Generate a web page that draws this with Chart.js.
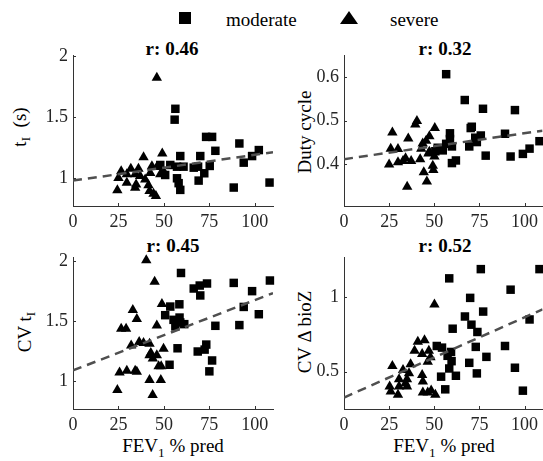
<!DOCTYPE html>
<html><head><meta charset="utf-8">
<script src="https://cdn.jsdelivr.net/npm/chart.js@4"></script>
<style>
html,body{margin:0;padding:0;background:#fff;}
body{width:543px;height:461px;position:relative;overflow:hidden;font-family:'Liberation Serif','Times New Roman',Times,'Nimbus Roman','DejaVu Serif','Noto Serif',serif;color:#000;}
.box{position:absolute;}
canvas{display:block;}
.t{position:absolute;white-space:nowrap;font-size:19px;line-height:19px;color:#000;}
.title{font-weight:bold;transform:translateX(-50%);}
.xl{transform:translateX(-50%);}
.yl{transform:translate(-50%,-50%) rotate(-90deg);}
sub{font-size:0.7em;line-height:0;vertical-align:-0.35em;}
.sq{position:absolute;width:12px;height:12px;background:#000;}
.tri{position:absolute;width:0;height:0;border-left:9px solid transparent;border-right:9px solid transparent;border-bottom:13px solid #000;}
#probe{position:absolute;left:0;top:0;font-size:1px;color:#fff;}
</style>
</head><body>
<div class="sq" style="left:179px;top:12px"></div>
<div class="t" style="left:226px;top:10px">moderate</div>
<div class="tri" style="left:340px;top:11px"></div>
<div class="t" style="left:390px;top:10px">severe</div>

<div class="t title" style="left:172px;top:39px">r: 0.46</div>
<div class="t title" style="left:445px;top:39px">r: 0.32</div>
<div class="t title" style="left:173px;top:236px">r: 0.45</div>
<div class="t title" style="left:445px;top:236px">r: 0.52</div>

<div class="t xl" style="left:173px;top:436px">FEV<sub>1</sub> % pred</div>
<div class="t xl" style="left:444px;top:436px">FEV<sub>1</sub> % pred</div>

<div class="t yl" style="left:19px;top:127px">t<sub>I</sub>&nbsp; (s)</div>
<div class="t yl" style="left:304px;top:132px">Duty cycle</div>
<div class="t yl" style="left:24px;top:332px">CV t<sub>I</sub></div>
<div class="t yl" style="left:304px;top:332px">CV &Delta; bioZ</div>

<div class="box" style="left:0px;top:40px;"><canvas id="c1" width="283" height="200"></canvas></div>
<div class="box" style="left:271px;top:40px;"><canvas id="c2" width="272" height="200"></canvas></div>
<div class="box" style="left:0px;top:242px;"><canvas id="c3" width="283" height="201"></canvas></div>
<div class="box" style="left:271px;top:242px;"><canvas id="c4" width="272" height="201"></canvas></div>

<script>
// ---- data ----
const xTicks = [0, 25, 50, 75, 100];
const fitX = [0, 110];

// t_I (s)
const tiModX = [56.3,55.9,73.2,76.5,78.3,91.5,102.2,98.5,93.9,59.0,70.0,53.5,57.2,60.8,66.4,68.8,75.2,72.2,50.7,57.2,58.1,59.0,69.1,88.4,108.1,48.0];
const tiModY = [1.566,1.477,1.336,1.336,1.222,1.282,1.228,1.179,1.125,1.179,1.179,1.106,1.092,1.092,1.084,1.092,1.098,1.038,1.024,0.997,0.957,0.902,0.978,0.921,0.962,1.106];
const tiSevX = [46.1,49.1,38.8,26.5,31.8,36.0,43.4,46.1,25.0,29.6,34.2,36.9,24.4,29.6,34.7,34.2,41.5,42.1,44.3,45.6,49.8,48.0,42.5,39.7];
const tiSevY = [1.82,1.20,1.17,1.055,1.075,1.075,1.095,1.09,1.0,1.03,1.03,1.015,0.9,0.96,0.947,0.92,0.94,0.892,0.87,0.852,1.055,1.03,1.04,0.987];
const tiFitY = [0.978, 1.21];
const tiTicks = [1, 1.5, 2];

// Duty cycle
const dcModX = [56.6,66.9,77.0,94.7,70.8,70.2,58.7,58.7,75.8,72.7,89.2,73.6,108.3,56.6,59.8,69.4,51.9,54.7,50.6,102.8,99.1,78.5,92.3,62.0,59.8];
const dcModY = [0.606,0.547,0.527,0.524,0.486,0.483,0.471,0.458,0.466,0.461,0.470,0.451,0.453,0.447,0.441,0.441,0.438,0.432,0.430,0.436,0.424,0.420,0.418,0.409,0.403];
const dcSevX = [40.4,39.5,50.3,26.8,35.6,47.3,45.5,43.6,42.8,25.9,29.9,46.8,34.1,37.2,42.2,47.3,25.0,29.9,32.7,49.2,49.5,44.2,45.9,35.0,50.1];
const dcSevY = [0.499,0.491,0.483,0.473,0.459,0.464,0.454,0.448,0.436,0.436,0.435,0.425,0.414,0.408,0.412,0.429,0.400,0.405,0.408,0.397,0.387,0.382,0.361,0.349,0.418];
const dcFitY = [0.412, 0.477];
const dcTicks = [0.4, 0.5, 0.6];

// CV t_I
const cvtModX = [59.4,108.3,88.4,73.7,69.7,66.4,70.0,98.5,53.5,58.5,93.9,50.7,55.3,58.6,59.0,61.2,56.3,102.2,78.3,91.5,57.5,73.3,72.4,68.6,53.1,76.5,75.0];
const cvtModY = [1.903,1.84,1.82,1.815,1.798,1.773,1.715,1.751,1.622,1.641,1.619,1.55,1.511,1.53,1.489,1.475,1.456,1.558,1.461,1.467,1.273,1.304,1.262,1.246,1.135,1.171,1.08];
const cvtSevX = [40.3,44.9,48.9,32.9,35.1,46.1,26.5,29.2,32.0,36.4,38.8,42.1,42.8,43.9,46.1,49.8,42.1,47.1,48.5,25.6,29.6,34.2,35.1,42.1,48.3,24.4,43.8];
const cvtSevY = [2.01,1.83,1.643,1.593,1.518,1.463,1.436,1.436,1.297,1.325,1.317,1.311,1.234,1.187,1.215,1.27,1.215,1.123,1.123,1.071,1.085,1.085,1.076,1.007,1.007,0.924,0.883];
const cvtFitY = [1.088, 1.735];
const cvtTicks = [1, 1.5, 2];

// CV delta bioZ
const czModX = [75.8,108.3,58.3,92.3,69.9,77.1,67.0,70.6,102.8,60.2,73.9,51.4,54.3,89.2,73.0,59.3,57.4,78.9,59.6,69.4,58.3,94.7,73.6,62.0,53.8,56.1,99.1];
const czModY = [1.189,1.189,1.127,1.051,0.996,0.904,0.871,0.816,0.851,0.789,0.767,0.673,0.662,0.673,0.667,0.633,0.607,0.600,0.571,0.560,0.522,0.527,0.489,0.473,0.467,0.382,0.373];
const czSevX = [50.1,44.6,40.9,39.1,43.3,47.0,47.9,46.4,26.8,36.9,32.7,36.0,43.3,30.5,34.9,43.7,25.3,30.5,34.9,25.9,29.9,43.7,46.4,48.3,50.6,34.1];
const czSevY = [0.952,0.712,0.701,0.641,0.619,0.641,0.597,0.568,0.539,0.55,0.512,0.49,0.479,0.45,0.45,0.434,0.401,0.401,0.401,0.368,0.346,0.361,0.361,0.374,0.346,0.423];
const czFitY = [0.327, 0.919];
const czTicks = [0.5, 1];

// ---- drawing ----
const AXIS = '#333333';
const FONT = "'Liberation Serif', 'Times New Roman', Times, 'Nimbus Roman', 'DejaVu Serif', 'Noto Serif', serif";
const pts = (xs, ys) => xs.map((x, i) => ({x: x, y: ys[i]}));

const inwardTicks = {
  id: 'inwardTicks',
  afterDraw(chart) {
    const ctx = chart.ctx, a = chart.chartArea;
    const xs = chart.scales.x, ys = chart.scales.y;
    ctx.save();
    ctx.strokeStyle = AXIS; ctx.lineWidth = 1;
    ctx.beginPath();
    xs.ticks.forEach(t => { const p = Math.round(xs.getPixelForValue(t.value)) + 0.5; ctx.moveTo(p, a.bottom); ctx.lineTo(p, a.bottom - 3); });
    ys.ticks.forEach(t => { const p = Math.round(ys.getPixelForValue(t.value)) + 0.5; ctx.moveTo(a.left, p); ctx.lineTo(a.left + 3, p); });
    ctx.stroke();
    ctx.restore();
  }
};

function panel(id, modX, modY, sevX, sevY, fitY, yTicks, yMin, yMax, padRight) {
  new Chart(document.getElementById(id), {
    type: 'scatter',
    data: { datasets: [
      { type: 'line', data: pts(fitX, fitY), borderColor: '#4f4f4f', borderWidth: 2.5, borderDash: [9, 6], pointRadius: 0, fill: false, tension: 0 },
      { data: pts(modX, modY), pointStyle: 'rect', pointRadius: 6, backgroundColor: '#000', borderColor: '#000', borderWidth: 0, clip: false },
      { data: pts(sevX, sevY), pointStyle: 'triangle', pointRadius: 6, backgroundColor: '#000', borderColor: '#000', borderWidth: 0, clip: false }
    ]},
    options: {
      responsive: false, animation: false, events: [],
      layout: { autoPadding: false, padding: { top: 15, right: padRight, bottom: 0, left: 0 } },
      plugins: { legend: { display: false }, tooltip: { enabled: false }, title: { display: false } },
      scales: {
        x: {
          type: 'linear', min: 0, max: 110,
          grid: { display: false, drawTicks: false },
          border: { display: true, color: AXIS, width: 1 },
          afterBuildTicks: s => { s.ticks = xTicks.map(v => ({ value: v })); },
          afterFit: s => { s.height = 34; },
          ticks: { font: { family: FONT, size: 18 }, color: '#262626', padding: 5, maxRotation: 0, autoSkip: false, callback: v => String(v) }
        },
        y: {
          type: 'linear', min: yMin, max: yMax,
          grid: { display: false, drawTicks: false },
          border: { display: true, color: AXIS, width: 1 },
          afterBuildTicks: s => { s.ticks = yTicks.map(v => ({ value: v })); },
          afterFit: s => { s.width = 73; },
          ticks: { font: { family: FONT, size: 18 }, color: '#262626', padding: 5, autoSkip: false, callback: v => String(v) }
        }
      }
    },
    plugins: [inwardTicks]
  });
}

panel('c1', tiModX, tiModY, tiSevX, tiSevY, tiFitY, tiTicks, 0.77, 2, 10);
panel('c2', dcModX, dcModY, dcSevX, dcSevY, dcFitY, dcTicks, 0.305, 0.648, 0);
panel('c3', cvtModX, cvtModY, cvtSevX, cvtSevY, cvtFitY, cvtTicks, 0.765, 2.03, 10);
panel('c4', czModX, czModY, czSevX, czSevY, czFitY, czTicks, 0.25, 1.265, 0);
</script>
</body></html>
